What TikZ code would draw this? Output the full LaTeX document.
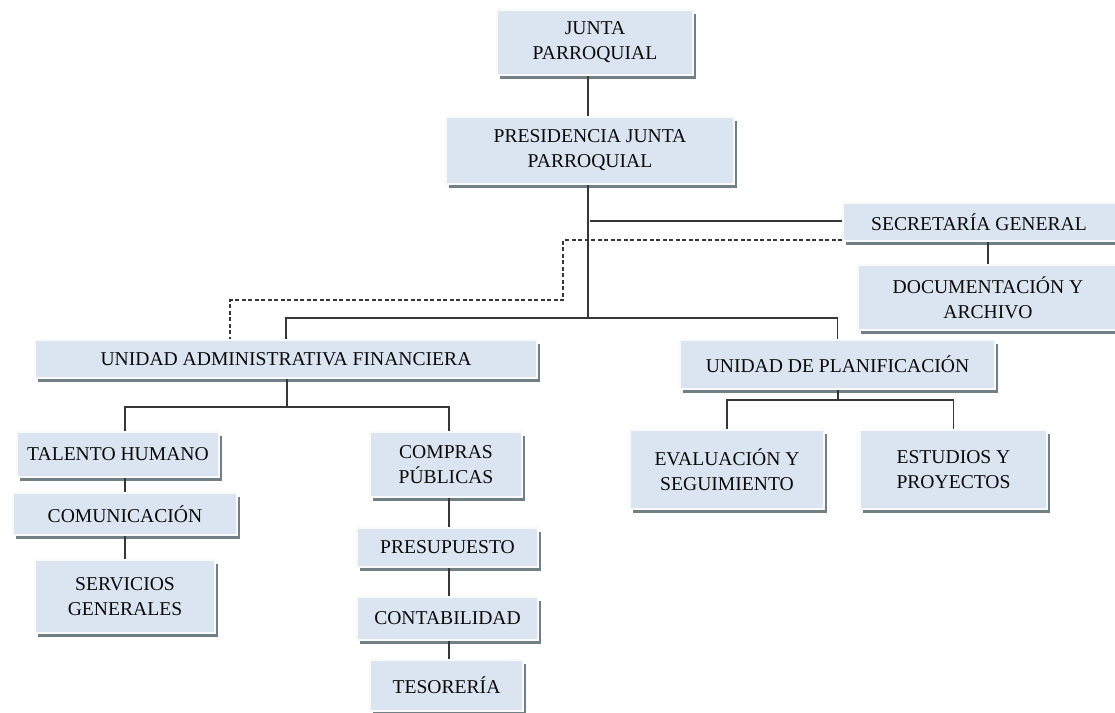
\documentclass[tikz,border=0pt]{standalone}
\usepackage{fontspec}
\setmainfont{Liberation Serif}
\usetikzlibrary{shadows,calc}
\definecolor{boxfill}{RGB}{219,229,241}
\definecolor{shadowc}{RGB}{112,128,132}
\definecolor{linec}{RGB}{55,55,55}
\definecolor{textc}{RGB}{10,10,10}
\tikzset{
  orgbox/.style={fill=boxfill, draw=white!96!gray, line width=2pt,
    drop shadow={shadow xshift=3pt, shadow yshift=-3.5pt, fill=shadowc, opacity=1},
    align=center, inner sep=0pt, text=textc,
    font=\fontsize{19.6}{25}\selectfont},
  conn/.style={draw=linec, line width=1.6pt},
  dconn/.style={draw=linec, line width=1.6pt, dash pattern=on 4pt off 2.5pt}
}
\begin{document}
\begin{tikzpicture}[x=1pt,y=-1pt]
\useasboundingbox (0,0) rectangle (1115,712);
% boxes
\node[orgbox, minimum width=196pt, minimum height=65pt] (junta) at (595,42.5) {JUNTA\\PARROQUIAL};
\node[orgbox, minimum width=288pt, minimum height=67pt] (pres) at (590,150.5) {PRESIDENCIA JUNTA\\PARROQUIAL};
\node[orgbox, minimum width=276pt, minimum height=38pt] (sec) at (981,222) {SECRETARÍA GENERAL\hspace*{4pt}};
\node[orgbox, minimum width=260pt, minimum height=65pt] (doc) at (988,297.5) {DOCUMENTACIÓN Y\\ARCHIVO};
\node[orgbox, minimum width=502pt, minimum height=38pt] (uaf) at (286,359) {UNIDAD ADMINISTRATIVA FINANCIERA};
\node[orgbox, minimum width=315pt, minimum height=49pt] (up) at (837.5,364.5) {UNIDAD DE PLANIFICACIÓN};
\node[orgbox, minimum width=202pt, minimum height=45pt] (th) at (118,454.5) {TALENTO HUMANO};
\node[orgbox, minimum width=152pt, minimum height=65pt] (cp) at (446,464.5) {COMPRAS\\PÚBLICAS};
\node[orgbox, minimum width=224pt, minimum height=42pt] (com) at (125,514) {COMUNICACIÓN};
\node[orgbox, minimum width=180pt, minimum height=73pt] (sg) at (125,596.5) {SERVICIOS\\GENERALES};
\node[orgbox, minimum width=181pt, minimum height=39pt] (presu) at (447.5,547.5) {PRESUPUESTO};
\node[orgbox, minimum width=181pt, minimum height=43pt] (cont) at (447.5,618.5) {CONTABILIDAD};
\node[orgbox, minimum width=153pt, minimum height=51pt] (tes) at (446.5,685.5) {TESORERÍA};
\node[orgbox, minimum width=194pt, minimum height=79pt] (eval) at (727,469.5) {EVALUACIÓN Y\\SEGUIMIENTO};
\node[orgbox, minimum width=187pt, minimum height=79pt] (est) at (953.5,469.5) {ESTUDIOS Y\\PROYECTOS};
% helper coordinates
\coordinate (t) at (588,0);
\coordinate (bar) at (588,318);
\coordinate (sj) at (590,221);
\coordinate (d1) at (563,240);
\coordinate (d2) at (230,300);
\coordinate (la) at (125,0);
\coordinate (lb) at (449,0);
\coordinate (uafb) at (287,407);
\coordinate (upb) at (838,400);
% connectors
\draw[conn] (junta.south -| t) -- (pres.north -| t);
\draw[conn] (pres.south -| t) -- (bar);
\draw[conn] (sj) -- (sec.west |- sj);
\draw[dconn] (sec.west |- d1) -- (d1) |- (d2) -- (d2 |- uaf.north);
\draw[conn] (sec.south -| doc.north) -- (doc.north);
\draw[conn] (uaf.north) |- (bar) -| (up.north);
\draw[conn] (uaf.south -| uafb) -- (uafb);
\draw[conn] (th.north -| la) |- (uafb) -| (cp.north -| lb);
\draw[conn] (th.south -| la) -- (com.north -| la);
\draw[conn] (com.south -| la) -- (sg.north -| la);
\draw[conn] (cp.south -| lb) -- (presu.north -| lb);
\draw[conn] (presu.south -| lb) -- (cont.north -| lb);
\draw[conn] (cont.south -| lb) -- (tes.north -| lb);
\draw[conn] (up.south -| upb) -- (upb);
\draw[conn] (eval.north) |- (upb) -| (est.north);
\end{tikzpicture}
\end{document}
